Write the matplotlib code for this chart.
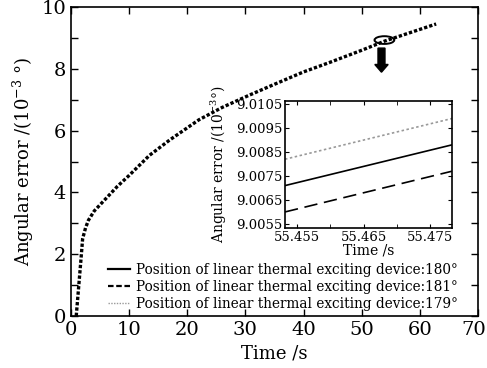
import matplotlib
matplotlib.use("Agg")
import matplotlib.pyplot as plt
import matplotlib.transforms as mtransforms
import numpy as np
from matplotlib.patches import Ellipse, FancyArrow

plt.rcParams['font.family'] = ['DejaVu Serif']
plt.rcParams['mathtext.fontset'] = 'dejavuserif'

# main curve data (time s, angular error 1e-3 deg)
t_main = [0.9, 1.3, 1.7, 2.0, 2.5, 3.0, 4.0, 6.0, 8.0, 10.0, 13.5, 17.0, 22.0, 26.0,
          30.7, 35.0, 40.0, 44.4, 50.0, 54.0, 58.0, 62.8]
e_main = [0.0, 0.9, 1.8, 2.5, 2.85, 3.1, 3.4, 3.8, 4.2, 4.55, 5.2, 5.7, 6.35, 6.75,
          7.15, 7.5, 7.9, 8.2, 8.6, 8.9, 9.15, 9.45]

# inset data
t_inset = [55.4532, 55.4783]
e_180 = [9.0071, 9.0088]
e_181 = [9.0060, 9.0077]
e_179 = [9.0082, 9.0099]

labels = ["Position of linear thermal exciting device:180°",
          "Position of linear thermal exciting device:181°",
          "Position of linear thermal exciting device:179°"]

fig = plt.figure(figsize=(4.87, 3.68), dpi=100)
W, H = 487, 368
ax = fig.add_axes([71/W, 1 - 316/H, (478-71)/W, (316-7)/H])

ax.plot(t_main, e_main, color='k', lw=2.4, linestyle=(0, (1, 0.6)))
h1, = ax.plot([], [], color='k', lw=1.6, linestyle='-')
h2, = ax.plot([], [], color='k', lw=1.6, linestyle=(0, (2.5, 1.2)))
h3, = ax.plot([], [], color='#999999', lw=1.0, linestyle=(0, (1, 1)))

ax.set_xlim(0, 70)
ax.set_ylim(0, 10)
ax.set_xticks(range(0, 71, 10))
ax.set_yticks(range(0, 11, 2))
ax.set_yticks(range(1, 11, 2), minor=True)
ax.tick_params(direction='in', which='both', top=True, right=True, labelsize=14, length=5, width=1)
ax.set_xlabel("Time /s", fontsize=13, labelpad=4)
ax.set_ylabel("Angular error /(10$^{-3}$ °)", fontsize=13, labelpad=4)
for s in ax.spines.values():
    s.set_linewidth(1.2)

# nudge last x tick label so it stays inside the figure
fig.canvas.draw()
last = ax.get_xticklabels()[-1]
last.set_transform(last.get_transform() + mtransforms.ScaledTranslation(-4/100, 0, fig.dpi_scale_trans))

leg = ax.legend([h1, h2, h3], labels, loc='lower left', bbox_to_anchor=(0.078, 0.0),
                frameon=False, fontsize=9.8, handlelength=1.6, handletextpad=0.45,
                labelspacing=0.22, borderaxespad=0)

# ellipse and arrow
ax.add_patch(Ellipse((53.9, 8.93), 3.4, 0.25, fill=False, ec='k', lw=1.4))
ax.add_patch(FancyArrow(53.4, 8.67, 0, -0.78, width=1.2, head_width=2.3, head_length=0.25,
                        length_includes_head=True, color='k'))

# inset
axi = fig.add_axes([285/W, 1 - 228/H, (452-285)/W, (228-101)/H])
axi.plot(t_inset, e_180, color='k', lw=1.2)
axi.plot(t_inset, e_181, color='k', lw=1.2, linestyle=(0, (8, 4)))
axi.plot(t_inset, e_179, color='#999999', lw=1.2, linestyle=(0, (1.5, 1.5)))
axi.set_xlim(t_inset[0], t_inset[1])
axi.set_ylim(9.00533, 9.01063)
axi.set_xticks([55.455, 55.465, 55.475])
axi.set_xticklabels(["55.455", "55.465", "55.475"])
axi.set_xticks([55.46, 55.47], minor=True)
axi.set_yticks([9.0055, 9.0065, 9.0075, 9.0085, 9.0095, 9.0105])
axi.set_yticklabels(["9.0055", "9.0065", "9.0075", "9.0085", "9.0095", "9.0105"])
axi.tick_params(direction='in', which='both', top=True, right=True, labelsize=9.5, length=3, pad=2)
axi.set_xlabel("Time /s", fontsize=10, labelpad=0)
axi.set_ylabel("Angular error /(10$^{-3}$°)", fontsize=10, labelpad=5)
for s in axi.spines.values():
    s.set_linewidth(1.2)

fig.savefig("out.png", dpi=100)
